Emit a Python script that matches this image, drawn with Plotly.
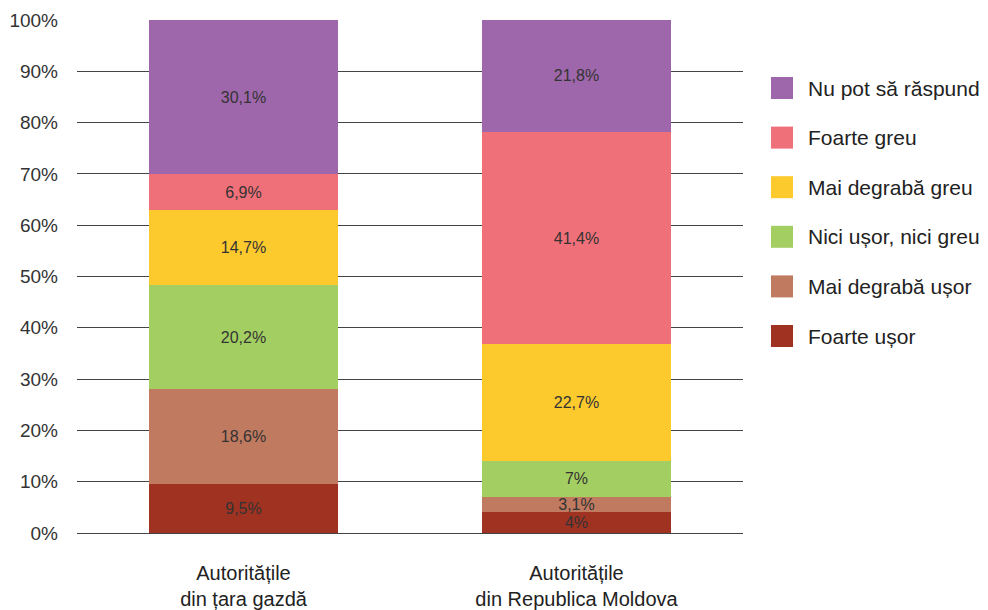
import plotly.graph_objects as go

categories = ["Autoritățile<br>din țara gazdă", "Autoritățile<br>din Republica Moldova"]
series_names = ["Foarte ușor", "Mai degrabă ușor", "Nici ușor, nici greu",
                "Mai degrabă greu", "Foarte greu", "Nu pot să răspund"]
values = {
    "Foarte ușor": [9.5, 4],
    "Mai degrabă ușor": [18.6, 3.1],
    "Nici ușor, nici greu": [20.2, 7],
    "Mai degrabă greu": [14.7, 22.7],
    "Foarte greu": [6.9, 41.4],
    "Nu pot să răspund": [30.1, 21.8],
}
colors = {
    "Foarte ușor": "#A03222",
    "Mai degrabă ușor": "#C07A5F",
    "Nici ușor, nici greu": "#A3CF62",
    "Mai degrabă greu": "#FDCA2E",
    "Foarte greu": "#F07079",
    "Nu pot să răspund": "#9E67AB",
}
y_ticks = [0, 10, 20, 30, 40, 50, 60, 70, 80, 90, 100]
y_tick_labels = [f"{t}%" for t in y_ticks]

def fmt(v):
    return f"{v:g}".replace(".", ",") + "%"

fig = go.Figure()
for name in series_names:
    vals = values[name]
    fig.add_trace(go.Bar(
        x=categories, y=vals, name=name,
        marker=dict(color=colors[name], line=dict(width=0)),
        text=[fmt(v) for v in vals], textposition="inside",
        insidetextanchor="middle", textangle=0, constraintext="none",
        textfont=dict(family="Liberation Sans, Arial", size=16, color="#333333"),
        showlegend=False, width=0.568,
    ))

# page body has an 8px offset: plot area spans page x 77..743, y 20..533
L, T, PW, PH = 69, 12, 666, 513

# manual legend (large square swatches)
legend_order = list(reversed(series_names))
for i, name in enumerate(legend_order):
    yc = 88 + i * 49.6
    fig.add_shape(type="rect", xref="paper", yref="paper",
                  x0=(771 - 77) / PW, x1=(793 - 77) / PW,
                  y0=1 - (yc - 11 - 20) / PH, y1=1 - (yc + 11 - 20) / PH,
                  fillcolor=colors[name], line=dict(width=0))
    fig.add_annotation(xref="paper", yref="paper",
                       x=(806 - 77) / PW, y=1 - (yc - 20) / PH,
                       text=name, showarrow=False, xanchor="left", yanchor="middle",
                       font=dict(family="Liberation Sans, Arial", size=21, color="#222222"))

fig.update_layout(
    barmode="stack",
    width=980, height=602,
    margin=dict(l=L, r=980 - L - PW, t=T, b=602 - T - PH, autoexpand=False),
    plot_bgcolor="white", paper_bgcolor="white",
    font=dict(family="Liberation Sans, Arial", size=19, color="#333333"),
    bargap=0.432,
    uniformtext=dict(mode=False),
)
fig.update_xaxes(showline=False, showgrid=False, ticks="", ticklabelstandoff=26,
                 automargin=False, tickfont=dict(size=20, color="#222222"))
fig.update_yaxes(range=[0, 100], tickvals=y_ticks, ticktext=y_tick_labels,
                 showgrid=True, gridcolor="#444444", gridwidth=1, zeroline=True,
                 zerolinecolor="#444444", zerolinewidth=1, showline=False, automargin=False,
                 ticks="", ticklabelstandoff=18, tickfont=dict(size=19, color="#333333"))

fig.write_html("out.html")
